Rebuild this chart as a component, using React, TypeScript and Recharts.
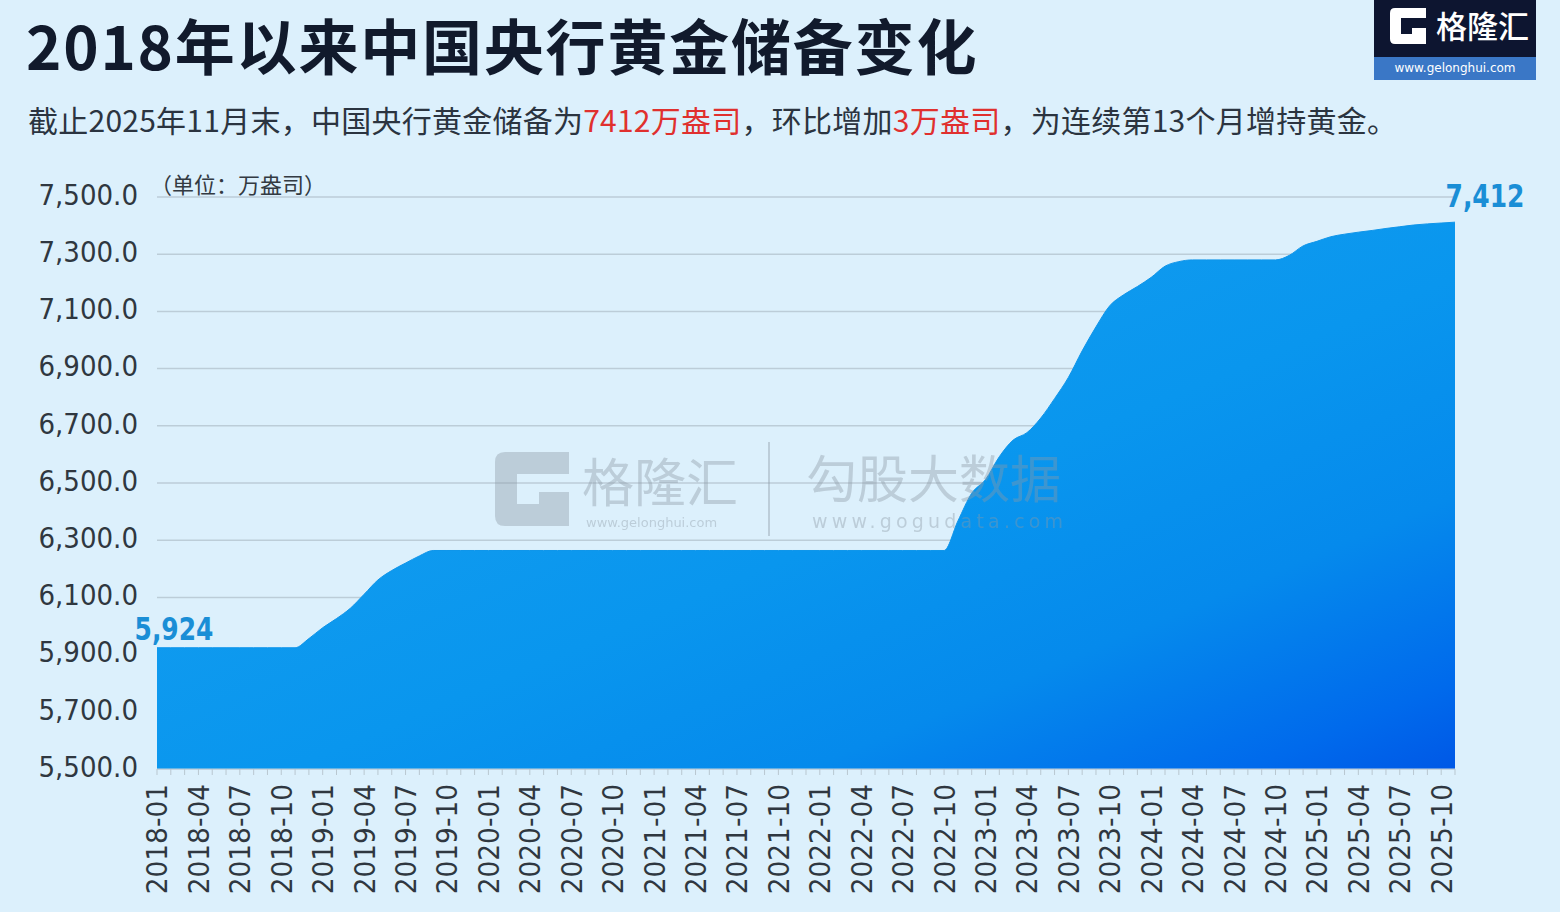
import React from "react";
import { AreaChart, Area, XAxis, YAxis, CartesianGrid, LabelList } from "recharts";

// 中国央行黄金储备（万盎司），2018-01 ~ 2025-11
const GOLD_RESERVES: number[] = [
  // 2018
  5924, 5924, 5924, 5924, 5924, 5924, 5924, 5924, 5924, 5924, 5924, 5956,
  // 2019
  5994, 6026, 6062, 6111, 6161, 6194, 6220, 6245, 6264, 6264, 6264, 6264,
  // 2020
  6264, 6264, 6264, 6264, 6264, 6264, 6264, 6264, 6264, 6264, 6264, 6264,
  // 2021
  6264, 6264, 6264, 6264, 6264, 6264, 6264, 6264, 6264, 6264, 6264, 6264,
  // 2022
  6264, 6264, 6264, 6264, 6264, 6264, 6264, 6264, 6264, 6264, 6367, 6464,
  // 2023
  6512, 6592, 6650, 6676, 6727, 6795, 6869, 6962, 7046, 7120, 7158, 7187,
  // 2024
  7219, 7258, 7274, 7280, 7280, 7280, 7280, 7280, 7280, 7280, 7296, 7329,
  // 2025
  7345, 7361, 7370, 7377, 7383, 7390, 7396, 7402, 7406, 7409, 7412,
];

const MONTHS: string[] = GOLD_RESERVES.map(
  (_, i) => `${2018 + Math.floor(i / 12)}-${String((i % 12) + 1).padStart(2, "0")}`
);

const Y_TICKS = [5500, 5700, 5900, 6100, 6300, 6500, 6700, 6900, 7100, 7300, 7500];

const data = MONTHS.map((m, i) => ({ month: m, value: GOLD_RESERVES[i] }));

const NUM_FONT = '"DejaVu Sans", sans-serif';
const CJK_FONT = '"Noto Sans CJK SC", "Noto Sans", sans-serif';

const fmt = (v: number) => v.toLocaleString("en-US");

const YTick = (props: any) => {
  const { x, y, payload } = props;
  return (
    <g transform={`translate(${x},${y}) scale(0.9,1)`}>
      <text x={0} y={0} dy="0.27em" textAnchor="end" fontFamily={NUM_FONT} fontSize={29} fill="#2f3740">
        {Number(payload.value).toLocaleString("en-US", { minimumFractionDigits: 1, maximumFractionDigits: 1 })}
      </text>
    </g>
  );
};

const XTick = (props: any) => {
  const { x, y, payload, index } = props;
  const i = payload?.index ?? index;
  if (i % 3 !== 0) return <g />;
  return (
    <g transform={`translate(${x},${y}) rotate(-90) scale(0.91,1)`}>
      <text x={0} y={0} dy="0.36em" textAnchor="end" fontFamily={NUM_FONT} fontSize={29} fill="#2f3740">
        {payload.value}
      </text>
    </g>
  );
};

const EndLabel = (props: any) => {
  const { x, y, index, value } = props;
  const last = GOLD_RESERVES.length - 1;
  if (index !== 0 && index !== last) return null;
  const dx = index === 0 ? 17 : 30;
  const dy = index === 0 ? -8 : -15;
  return (
    <g transform={`translate(${x + dx},${y + dy}) scale(0.78,1)`}>
      <text x={0} y={0} textAnchor="middle" fontFamily={NUM_FONT} fontWeight={700} fontSize={32} fill="#1a8ed6">
        {fmt(value)}
      </text>
    </g>
  );
};

const Watermark = () => (
  <div style={{ position: "absolute", left: 0, top: 0, opacity: 0.4, pointerEvents: "none" }}>
    <svg style={{ position: "absolute", left: 495, top: 452 }} width={74} height={74} viewBox="0 0 74 74">
      <path d="M10 0 H74 V22 H22 V52 H44 V40 H74 V74 H10 Q0 74 0 64 V10 Q0 0 10 0 Z" fill="#8d9aa5" />
    </svg>
    <div style={{ position: "absolute", left: 582, top: 452, fontFamily: CJK_FONT, fontSize: 52, color: "#8d9aa5", whiteSpace: "nowrap", lineHeight: "56px" }}>
      格隆汇
    </div>
    <div style={{ position: "absolute", left: 586, top: 515, fontFamily: NUM_FONT, fontSize: 13, lineHeight: "16px", color: "#8d9aa5", whiteSpace: "nowrap" }}>
      www.gelonghui.com
    </div>
    <div style={{ position: "absolute", left: 768, top: 442, width: 2, height: 94, background: "#8d9aa5" }} />
    <div style={{ position: "absolute", left: 806, top: 449, fontFamily: CJK_FONT, fontSize: 51, color: "#8d9aa5", whiteSpace: "nowrap", lineHeight: "54px" }}>
      勾股大数据
    </div>
    <div style={{ position: "absolute", left: 812, top: 510, fontFamily: NUM_FONT, fontSize: 19, lineHeight: "22px", letterSpacing: 4.2, color: "#8d9aa5", whiteSpace: "nowrap" }}>
      www.gogudata.com
    </div>
  </div>
);

const Logo = () => (
  <div style={{ position: "absolute", left: 1374, top: 0, width: 162, height: 80 }}>
    <div style={{ position: "absolute", left: 0, top: 0, width: 162, height: 57, background: "#0d1530" }}>
      <svg style={{ position: "absolute", left: 16, top: 8 }} width={36} height={36} viewBox="0 0 36 36">
        <path d="M5 0 H36 V10 H11 V26 H22 V20 H36 V36 H5 Q0 36 0 31 V5 Q0 0 5 0 Z" fill="#ffffff" />
      </svg>
      <div style={{ position: "absolute", left: 62, top: 3, fontFamily: CJK_FONT, fontWeight: 500, fontSize: 31, color: "#ffffff", lineHeight: "44px", whiteSpace: "nowrap" }}>
        格隆汇
      </div>
    </div>
    <div style={{ position: "absolute", left: 0, top: 57, width: 162, height: 23, background: "#3a77c6", color: "#ffffff", fontFamily: NUM_FONT, fontSize: 12, lineHeight: "23px", textAlign: "center" }}>
      www.gelonghui.com
    </div>
  </div>
);

export default function App() {
  return (
    <div style={{ position: "absolute", left: 0, top: 0, width: 1560, height: 912, background: "#dcf0fc", overflow: "hidden" }}>
      <div style={{ position: "absolute", left: 26, top: 0, fontFamily: CJK_FONT, fontWeight: 700, fontSize: 60, letterSpacing: 1.8, lineHeight: "88px", color: "#111a2c", whiteSpace: "nowrap" }}>
        2018年以来中国央行黄金储备变化
      </div>
      <div style={{ position: "absolute", left: 28, top: 99, fontFamily: CJK_FONT, fontSize: 30, letterSpacing: 0.25, lineHeight: "40px", color: "#2b3440", whiteSpace: "nowrap" }}>
        截止2025年11月末，中国央行黄金储备为<span style={{ color: "#e0302e" }}>7412万盎司</span>，环比增加<span style={{ color: "#e0302e" }}>3万盎司</span>，为连续第13个月增持黄金。
      </div>
      <Logo />
      <div style={{ position: "absolute", left: 0, top: 0 }}>
        <AreaChart width={1560} height={912} data={data} margin={{ top: 197, right: 105, left: 0, bottom: 13 }}>
          <defs>
            <linearGradient id="goldFill" x1="0" y1="0" x2="1" y2="1">
              <stop offset="0%" stopColor="#1ca3f0" />
              <stop offset="55%" stopColor="#0996ee" />
              <stop offset="75%" stopColor="#058aec" />
              <stop offset="92%" stopColor="#006aec" />
              <stop offset="100%" stopColor="#0058e6" />
            </linearGradient>
          </defs>
          <CartesianGrid vertical={false} stroke="#bccdd8" strokeWidth={1.5} />
          <XAxis
            dataKey="month"
            interval={0}
            height={130}
            tickSize={6}
            tickMargin={9}
            tick={XTick}
            tickLine={{ stroke: "#b9c7d0" }}
            axisLine={{ stroke: "#c4d2db" }}
          />
          <YAxis
            domain={[5500, 7500]}
            ticks={Y_TICKS}
            width={157}
            tickSize={0}
            tickMargin={19}
            tick={YTick}
            axisLine={false}
            tickLine={false}
          />
          <Area
            type="monotone"
            dataKey="value"
            stroke="#0f95ea"
            strokeWidth={1}
            fill="url(#goldFill)"
            fillOpacity={1}
            baseValue={5500}
            isAnimationActive={false}
          >
            <LabelList dataKey="value" content={EndLabel} />
          </Area>
        </AreaChart>
      </div>
      <div style={{ position: "absolute", left: 150, top: 167, fontFamily: CJK_FONT, fontSize: 22, lineHeight: "32px", color: "#333a42", whiteSpace: "nowrap" }}>
        （单位：万盎司）
      </div>
      <Watermark />
    </div>
  );
}
